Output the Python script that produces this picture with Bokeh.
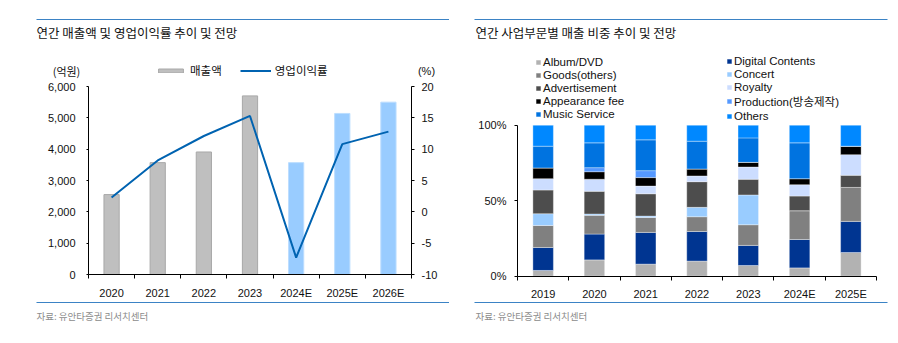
from bokeh.plotting import figure
from bokeh.models import (Range1d, LinearAxis, FixedTicker, NumeralTickFormatter, Label,
                          BoxAnnotation, Legend, LegendItem, ColumnDataSource)
from bokeh.layouts import row
from bokeh.embed import file_html
from bokeh.resources import INLINE

# ---------------- data ----------------
years_left = ["2020", "2021", "2022", "2023", "2024E", "2025E", "2026E"]
sales = [2550, 3570, 3910, 5700, 3570, 5140, 5500]          # 매출액 (억원)
op_margin = [2.3, 8.2, 12.1, 15.3, -7.3, 10.8, 12.8]         # 영업이익률 (%)
is_estimate = [False, False, False, False, True, True, True]
left_ticks = [0, 1000, 2000, 3000, 4000, 5000, 6000]
right_ticks = [-10, -5, 0, 5, 10, 15, 20]

years_right = ["2019", "2020", "2021", "2022", "2023", "2024E", "2025E"]
segment_labels = ["Album/DVD", "Digital Contents", "Goods(others)", "Concert", "Advertisement",
                  "Royalty", "Appearance fee", "Production(방송제작)", "Music Service", "Others"]
album = [3.8, 10.8, 8.0, 10.0, 7.1, 5.5, 15.7]
digital = [15.2, 17.1, 21.0, 19.6, 13.3, 18.8, 20.6]
goods = [14.6, 12.4, 9.9, 9.8, 13.7, 19.1, 22.5]
concert = [7.8, 0.9, 0.9, 6.2, 19.7, 0.0, 0.0]
advert = [15.7, 15.0, 14.8, 17.0, 10.4, 9.7, 8.0]
royalty = [7.5, 8.0, 5.1, 3.8, 8.1, 7.5, 13.7]
appearance = [7.1, 5.0, 5.6, 4.6, 3.1, 4.0, 5.6]
production = [0.0, 2.7, 4.6, 0.0, 0.0, 0.0, 0.0]
music = [14.4, 16.4, 20.4, 18.4, 16.2, 23.7, 0.0]
others = [13.9, 11.7, 9.7, 10.6, 8.4, 11.7, 13.9]
pct_ticks = [0, 50, 100]

seg_colors = ["#B2B2B2", "#003591", "#808080", "#99CCFF", "#4D4D4D",
              "#CCDDFF", "#000000", "#5599FF", "#0073E0", "#0088FF"]

FONT = "Liberation Sans, Noto Sans CJK KR"
KFONT = "Noto Sans CJK KR"
RULE = "#3B83C5"
W, H = 449, 343


def make_fig(x0, x1, n, y0, y1, vmin, vmax):
    """Figure whose frame is the whole canvas; n categories map to px x0..x1,
    values vmin..vmax map to px y0 (bottom) .. y1 (top), y measured from top."""
    ux = (x1 - x0) / n
    uy = (y0 - y1) / (vmax - vmin)
    p = figure(width=W, height=H, output_backend="svg", toolbar_location=None,
               x_range=Range1d(-x0 / ux, (W - x0) / ux),
               y_range=Range1d(vmin - (H - y0) / uy, vmax + y1 / uy),
               x_axis_type=None, y_axis_type=None,
               min_border_left=0, min_border_right=0, min_border_top=0, min_border_bottom=0)
    p.outline_line_color = None
    p.grid.visible = False
    return p


def style_axis(ax, size="11px"):
    ax.axis_line_color = "black"
    ax.axis_line_width = 1
    ax.major_tick_line_color = "black"
    ax.minor_tick_line_color = "black"
    ax.major_tick_in = 0
    ax.minor_tick_in = 0
    ax.minor_tick_out = 0
    ax.major_label_text_font = FONT
    ax.major_label_text_font_size = size
    ax.major_label_text_color = "#111111"


def screen_label(p, x, y_top, text, size, color="#111111", align="left", font=KFONT):
    p.add_layout(Label(x=x, y=H - y_top, x_units="screen", y_units="screen", text=text,
                       text_font=font, text_font_size=size, text_color=color,
                       text_align=align, text_baseline="middle"))


def screen_rule(p, x0, x1, y_top):
    y = H - y_top
    p.add_layout(BoxAnnotation(left=x0, right=x1, bottom=y - 0.5, top=y + 0.5,
                               left_units="screen", right_units="screen",
                               top_units="screen", bottom_units="screen",
                               fill_color=RULE, fill_alpha=1, line_color=None))


# ---------------- left chart ----------------
n1 = len(years_left)
p1 = make_fig(88, 411, n1, 274, 86, left_ticks[0], left_ticks[-1])
upy = (274 - 86) / (right_ticks[-1] - right_ticks[0])
p1.extra_y_ranges = {"pct": Range1d(right_ticks[0] - (H - 274) / upy, right_ticks[-1] + 86 / upy)}

xs = [i + 0.5 for i in range(n1)]
src1 = ColumnDataSource(dict(
    x=xs, top=sales,
    fill=["#99CCFF" if e else "#BFBFBF" for e in is_estimate],
    line=["#BBDDFF" if e else "#A8A8A8" for e in is_estimate]))
bars = p1.vbar(x="x", top="top", width=0.33, fill_color="fill", line_color="line",
               line_width=1, source=src1)
ln = p1.line(xs, op_margin, y_range_name="pct", line_color="#0063B1", line_width=2)

axl = LinearAxis(ticker=FixedTicker(ticks=left_ticks), formatter=NumeralTickFormatter(format="0,0"),
                 fixed_location=0, bounds=(left_ticks[0], left_ticks[-1]))
style_axis(axl)
axl.major_tick_out = 2
axl.major_label_standoff = 11
p1.add_layout(axl, "left")

axr = LinearAxis(y_range_name="pct", ticker=FixedTicker(ticks=right_ticks),
                 major_label_overrides={t: str(t) for t in right_ticks},
                 fixed_location=n1, bounds=(right_ticks[0], right_ticks[-1]))
style_axis(axr)
axr.major_tick_out = 3
axr.major_label_standoff = 7
p1.add_layout(axr, "right")

axb = LinearAxis(ticker=FixedTicker(ticks=xs, minor_ticks=list(range(n1 + 1))),
                 major_label_overrides={x: y for x, y in zip(xs, years_left)},
                 fixed_location=0, bounds=(0, n1))
style_axis(axb)
axb.major_tick_out = 0
axb.minor_tick_out = 4
axb.major_label_standoff = 8
p1.add_layout(axb, "below")

leg1 = Legend(items=[LegendItem(label="매출액", renderers=[bars]),
                     LegendItem(label="영업이익률", renderers=[ln])],
              orientation="horizontal", location=(155, H - 78),
              glyph_width=31, glyph_height=5, label_standoff=4, spacing=18,
              padding=0, margin=0, border_line_color=None, background_fill_alpha=0,
              label_text_font=KFONT, label_text_font_size="11.5px", label_text_color="#111111")
p1.add_layout(leg1, "center")

screen_rule(p1, 36, 449, 19)
screen_label(p1, 36, 32, "연간 매출액 및 영업이익률 추이 및 전망", "12.5px")
screen_label(p1, 66, 70, "(억원)", "11px", align="center")
screen_label(p1, 426, 70, "(%)", "11px", align="center", font=FONT)
screen_rule(p1, 36, 449, 302)
screen_label(p1, 36, 315, "자료: 유안타증권 리서치센터", "9.5px", color="#8C8C8C")

# ---------------- right chart ----------------
n2 = len(years_right)
p2 = make_fig(68, 427, n2, 275.7, 124.7, pct_ticks[0], pct_ticks[-1])

keys = ["album", "digital", "goods", "concert", "advert", "royalty", "appearance",
        "production", "music", "others"]
xs2 = [i + 0.5 for i in range(n2)]
src2 = ColumnDataSource(dict(x=xs2, album=album, digital=digital, goods=goods, concert=concert,
                             advert=advert, royalty=royalty, appearance=appearance,
                             production=production, music=music, others=others))
rends = p2.vbar_stack(keys, x="x", width=0.4, fill_color=seg_colors, line_color="white",
                      line_alpha=0.35, line_width=1, source=src2)

ayl = LinearAxis(ticker=FixedTicker(ticks=pct_ticks),
                 major_label_overrides={t: f"{t}%" for t in pct_ticks},
                 fixed_location=0, bounds=(pct_ticks[0], pct_ticks[-1]))
style_axis(ayl)
ayl.major_tick_out = 3
ayl.major_label_standoff = 8
p2.add_layout(ayl, "left")

axb2 = LinearAxis(ticker=FixedTicker(ticks=xs2, minor_ticks=list(range(n2 + 1))),
                  major_label_overrides={x: y for x, y in zip(xs2, years_right)},
                  fixed_location=0, bounds=(0, n2))
style_axis(axb2)
axb2.major_tick_out = 0
axb2.minor_tick_out = 4
axb2.major_label_standoff = 8
p2.add_layout(axb2, "below")

for idxs, xpos, ybot in [([0, 2, 4, 6, 8], 86, 120.5), ([1, 3, 5, 7, 9], 277, 122.0)]:
    lg = Legend(items=[LegendItem(label=segment_labels[i], renderers=[rends[i]]) for i in idxs],
                orientation="vertical", location=(xpos, H - ybot),
                glyph_width=6, glyph_height=6, label_standoff=2, spacing=0,
                label_height=13, padding=0, margin=0, border_line_color=None,
                background_fill_alpha=0, label_text_font=FONT,
                label_text_font_size="11.5px", label_text_color="#111111")
    p2.add_layout(lg, "center")

screen_rule(p2, 25, 438, 19)
screen_label(p2, 26, 32, "연간 사업부문별 매출 비중 추이 및 전망", "12.5px")
screen_rule(p2, 25, 438, 302)
screen_label(p2, 26, 315, "자료: 유안타증권 리서치센터", "9.5px", color="#8C8C8C")

layout = row(p1, p2, spacing=0)
open("out.html", "w").write(file_html(layout, INLINE))
